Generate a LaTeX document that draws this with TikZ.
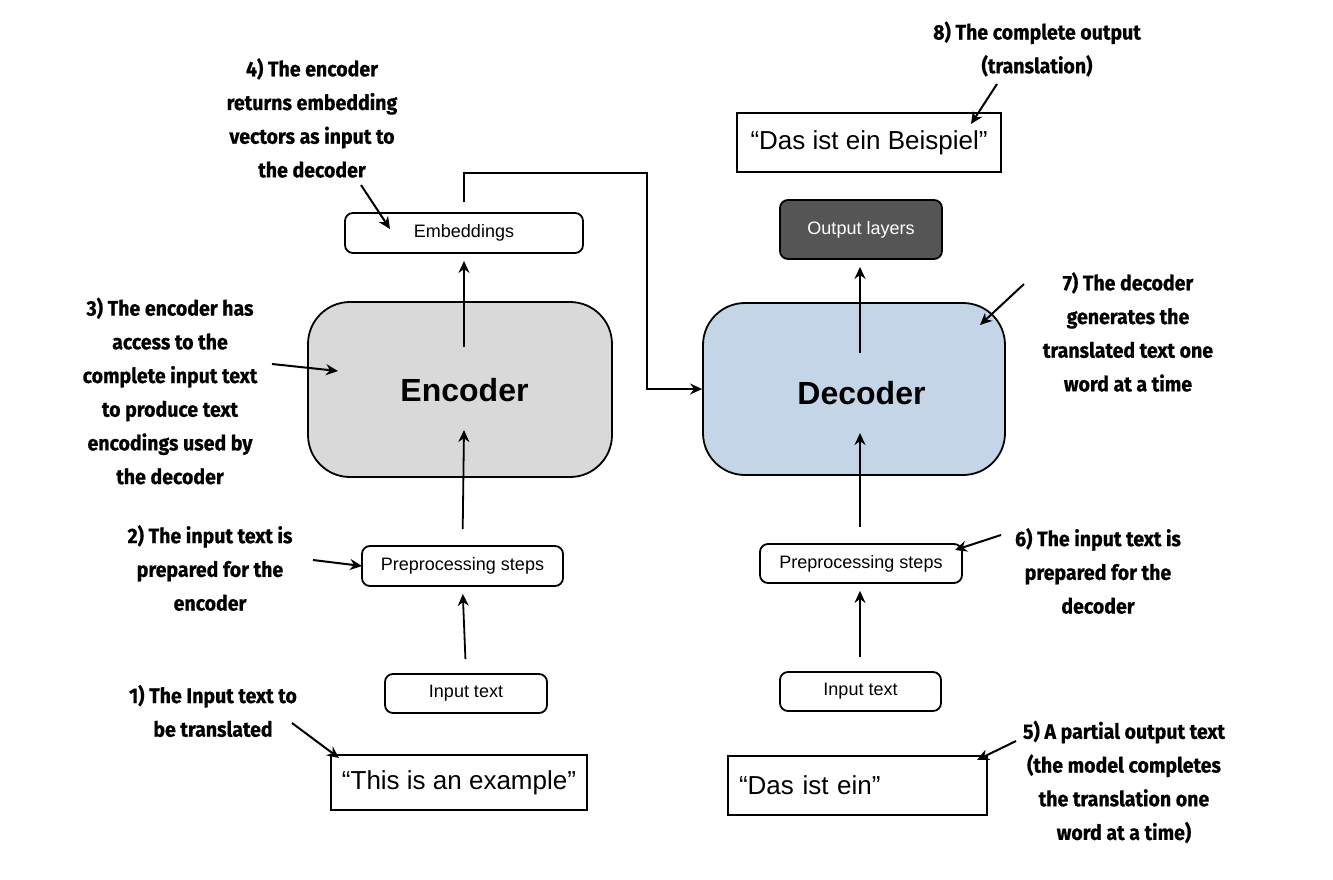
\documentclass[tikz,border=0pt]{standalone}
\usepackage{fontspec}
\usetikzlibrary{arrows.meta}
\newfontfamily\annfont[FakeStretch=0.93, BoldFeatures={FakeBold=0.6}]{Fira Sans}
\newfontfamily\boxfont{Liberation Sans}
\definecolor{encgray}{HTML}{D9D9D9}
\definecolor{decblue}{HTML}{C5D5E8}
\definecolor{outgray}{HTML}{555555}
\tikzset{
  smallbox/.style={draw, line width=1.8pt, rounded corners=8pt, fill=white, font=\boxfont\fontsize{18}{21}\selectfont, inner sep=0pt},
  bigbox/.style={draw, line width=1.8pt, rounded corners=42pt, inner sep=0pt},
  biglabel/.style={font=\boxfont\bfseries\fontsize{32}{36}\selectfont, inner sep=0pt},
  textbox/.style={draw, line width=1.8pt, fill=white, font=\boxfont\fontsize{26}{30}\selectfont, inner sep=0pt},
  ann/.style={align=center, font=\annfont\bfseries\fontsize{21}{33.7}\selectfont, inner sep=0pt},
  arr/.style={line width=1.8pt, -{Stealth[length=12pt,width=11pt]}},
  ptr/.style={line width=2pt, -{Stealth[length=12pt,width=11pt]}}
}
\begin{document}
\begin{tikzpicture}[x=1pt,y=-1pt]
\useasboundingbox[fill=white] (0,0) rectangle (1333,879);

% encoder side
\node[bigbox, fill=encgray, minimum width=304pt, minimum height=175pt] (enc) at (460,389.5) {};
\node[biglabel] (encLbl) at (464.5,390) {Encoder};
\node[smallbox, minimum width=238pt, minimum height=40pt] (emb) at (464,233) {Embeddings};
\node[smallbox, minimum width=201pt, minimum height=40pt] (prepL) at (462.5,566) {Preprocessing steps};
\node[smallbox, minimum width=162pt, minimum height=39pt] (inL) at (466,693.5) {Input text};
\node[textbox, minimum width=256pt, minimum height=55pt] (srcT) at (459,782.5) {“This is an example”};

% decoder side
\node[bigbox, fill=decblue, minimum width=302pt, minimum height=172pt] (dec) at (854,389) {};
\node[biglabel] (decLbl) at (861.5,393) {Decoder};
\node[smallbox, fill=outgray, text=white, minimum width=162pt, minimum height=59pt] (outL) at (861,229.5) {Output layers};
\node[smallbox, minimum width=202pt, minimum height=39pt] (prepR) at (861,563.5) {Preprocessing steps};
\node[smallbox, minimum width=161pt, minimum height=39pt] (inR) at (860.5,691.5) {Input text};
\node[textbox, minimum width=259pt, minimum height=59pt, text width=237pt, align=left] (partT) at (857.5,785.5) {“Das ist ein”};
\node[textbox, minimum width=264pt, minimum height=59pt] (fullT) at (869,142.5) {“Das ist ein Beispiel”};

% inner coordinates
\coordinate (encIn) at (464,430);
\coordinate (encOut) at (464,347);
\coordinate (decIn) at (860,433);
\coordinate (decOut) at (860,353);
\coordinate (turnA) at (647,173);

% main flow
\draw[arr, shorten <=14pt, shorten >=7pt] (inL.north) -- (prepL.south);
\draw[arr, shorten <=16pt] (prepL.north) -- (encIn);
\draw[arr, shorten >=7pt] (encOut) -- (emb.south);
\draw[arr, shorten <=10pt] (emb.north) |- (turnA) |- (dec.west);

\draw[arr, shorten <=14pt, shorten >=7pt] (inR.north -| decIn) -- (prepR.south -| decIn);
\draw[arr, shorten <=16pt] (prepR.north -| decIn) -- (decIn);
\draw[arr, shorten >=7pt] (decOut) -- (outL.south -| decOut);

% annotations
\node[ann] (a1) at (213,711) {1) The Input text to\\be translated};
\node[ann] (a2) at (210,568) {2) The input text is\\prepared for the\\encoder};
\node[ann] (a3) at (170,391) {3) The encoder has\\access to the\\complete input text\\to produce text\\encodings used by\\the decoder};
\node[ann] (a4) at (312,118) {4) The encoder\\returns embedding\\vectors as input to\\the decoder};
\node[ann] (a5) at (1124,782) {5) A partial output text\\(the model completes\\the translation one\\word at a time)};
\node[ann] (a6) at (1098,571) {6) The input text is\\prepared for the\\decoder};
\node[ann] (a7) at (1128,332) {7) The decoder\\generates the\\translated text one\\word at a time};
\node[ann] (a8) at (1037,49) {8) The complete output\\(translation)};

\coordinate (p1s) at (292,723); \coordinate (p1e) at (339,758);
\coordinate (p2s) at (313,560); \coordinate (p2e) at (362,566);
\coordinate (p3s) at (272,364); \coordinate (p3e) at (338,371);
\coordinate (p4s) at (361,185); \coordinate (p4e) at (390,229);
\coordinate (p5s) at (1016,741); \coordinate (p5e) at (977,760);
\coordinate (p6s) at (1001,535); \coordinate (p6e) at (955,550);
\coordinate (p7s) at (1024,284); \coordinate (p7e) at (980,325);
\coordinate (p8s) at (997,84); \coordinate (p8e) at (971,124);

\draw[ptr] (p1s) -- (p1e);
\draw[ptr] (p2s) -- (p2e);
\draw[ptr] (p3s) -- (p3e);
\draw[ptr] (p4s) -- (p4e);
\draw[ptr] (p5s) -- (p5e);
\draw[ptr] (p6s) -- (p6e);
\draw[ptr] (p7s) -- (p7e);
\draw[ptr] (p8s) -- (p8e);
\end{tikzpicture}
\end{document}
